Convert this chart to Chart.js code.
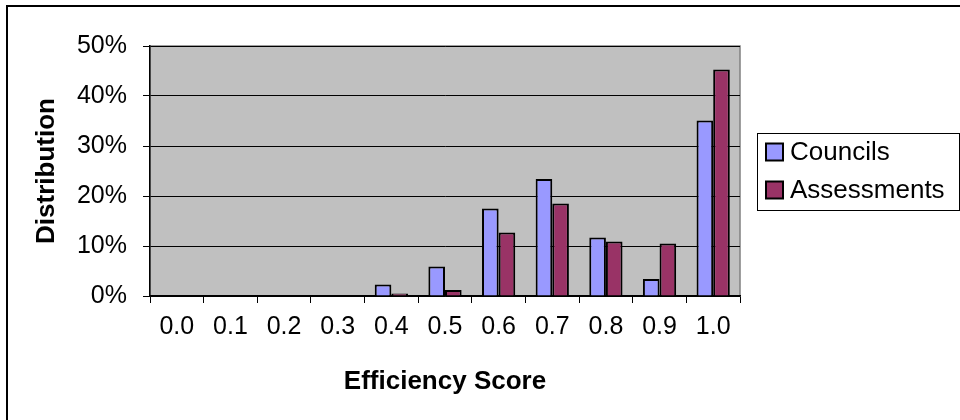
<!DOCTYPE html>
<html>
<head>
<meta charset="utf-8">
<script src="https://cdn.jsdelivr.net/npm/chart.js@4.4.1/dist/chart.umd.min.js"></script>
<style>
  html, body { margin: 0; padding: 0; background: #fff; }
  #wrap { width: 960px; height: 420px; }
</style>
</head>
<body>
<div id="wrap"><canvas id="effChart" width="960" height="420"></canvas></div>
<script>
// efficiency score buckets and share (%) of each group
const scores = ['0.0','0.1','0.2','0.3','0.4','0.5','0.6','0.7','0.8','0.9','1.0'];
const councils = [0, 0, 0, 0, 2.3, 5.9, 17.5, 23.4, 11.7, 3.4, 35.1];
const assessments = [0, 0, 0, 0, 0.5, 1.2, 12.7, 18.5, 10.9, 10.5, 45.3];
const seriesNames = ['Councils', 'Assessments'];
const yTicks = [0, 10, 20, 30, 40, 50];

const FONT = 'Liberation Sans, Arial, sans-serif';

// grey plot area + outer frame
const plotBg = {
    id: 'plotBg',
    beforeDraw(chart){
        const {ctx, chartArea: a} = chart;
        ctx.save();
        ctx.fillStyle = '#fff';
        ctx.fillRect(0, 0, chart.width, chart.height);
        ctx.strokeStyle = '#000';
        ctx.lineWidth = 2;
        ctx.strokeRect(7, 6, 1200, 1200);
        ctx.fillStyle = '#c0c0c0';
        ctx.fillRect(a.left, a.top, a.right - a.left, a.bottom - a.top);
        ctx.strokeStyle = '#808080';
        ctx.lineWidth = 1.5;
        ctx.strokeRect(a.left, a.top, a.right - a.left, a.bottom - a.top);
        ctx.restore();
    }
};

// legend box on the right, like the spreadsheet one
const boxLegend = {
    id: 'boxLegend',
    afterDraw(chart){
        const ctx = chart.ctx;
        ctx.save();
        ctx.strokeStyle = '#000';
        ctx.lineWidth = 1;
        ctx.strokeRect(757.5, 133.5, 202, 77);
        ctx.font = '26px ' + FONT;
        ctx.textBaseline = 'middle';
        chart.data.datasets.forEach((ds, i) => {
            const y = 152 + i * 38;
            ctx.fillStyle = ds.backgroundColor;
            ctx.fillRect(766, y - 8.5, 17, 17);
            ctx.lineWidth = 2;
            ctx.strokeRect(766, y - 8.5, 17, 17);
            ctx.fillStyle = '#000';
            ctx.fillText(ds.label, 790, y + 1);
        });
        ctx.restore();
    }
};

const ctx = document.getElementById('effChart');
const myChart = new Chart(ctx, {
    type: 'bar',
    data: {
        labels: scores,
        datasets: [{
            label: seriesNames[0],
            data: councils,
            backgroundColor: '#9999ff',
            borderColor: '#000',
            borderWidth: 2,
            categoryPercentage: 0.62,
            barPercentage: 1
        },
        {
            label: seriesNames[1],
            data: assessments,
            backgroundColor: '#993366',
            borderColor: '#000',
            borderWidth: 2,
            categoryPercentage: 0.62,
            barPercentage: 1
        }]
    },
    options: {
        responsive: false,
        animation: false,
        devicePixelRatio: 1,
        layout: { padding: { top: 46, right: 220, left: 0, bottom: 0 } },
        plugins: {
            legend: { display: false },
            tooltip: { enabled: false }
        },
        scales: {
            x: {
                afterFit: s => { s.height = 124; },
                grid: {
                    display: true,
                    drawOnChartArea: false,
                    drawTicks: true,
                    tickLength: 7,
                    color: '#000',
                    offset: true
                },
                border: { display: true, color: '#000', width: 1.5 },
                ticks: {
                    color: '#000',
                    padding: 9,
                    maxRotation: 0,
                    font: { family: FONT, size: 25 }
                },
                title: {
                    display: true,
                    text: 'Efficiency Score',
                    color: '#000',
                    padding: { top: 0, bottom: 23 },
                    font: { family: FONT, size: 26, weight: 'bold' }
                }
            },
            y: {
                min: 0,
                max: 50,
                afterFit: s => { s.width = 150; },
                afterBuildTicks: s => { s.ticks = yTicks.map(v => ({ value: v })); },
                grid: {
                    color: '#000',
                    lineWidth: 1,
                    tickLength: 7,
                    drawTicks: true
                },
                border: { display: true, color: '#000', width: 1.5 },
                ticks: {
                    color: '#000',
                    padding: 16,
                    font: { family: FONT, size: 25 },
                    callback: v => v + '%'
                },
                title: {
                    display: true,
                    text: 'Distribution',
                    color: '#000',
                    padding: { top: 31, bottom: 0 },
                    font: { family: FONT, size: 26, weight: 'bold' }
                }
            }
        }
    },
    plugins: [plotBg, boxLegend]
});
</script>
</body>
</html>
